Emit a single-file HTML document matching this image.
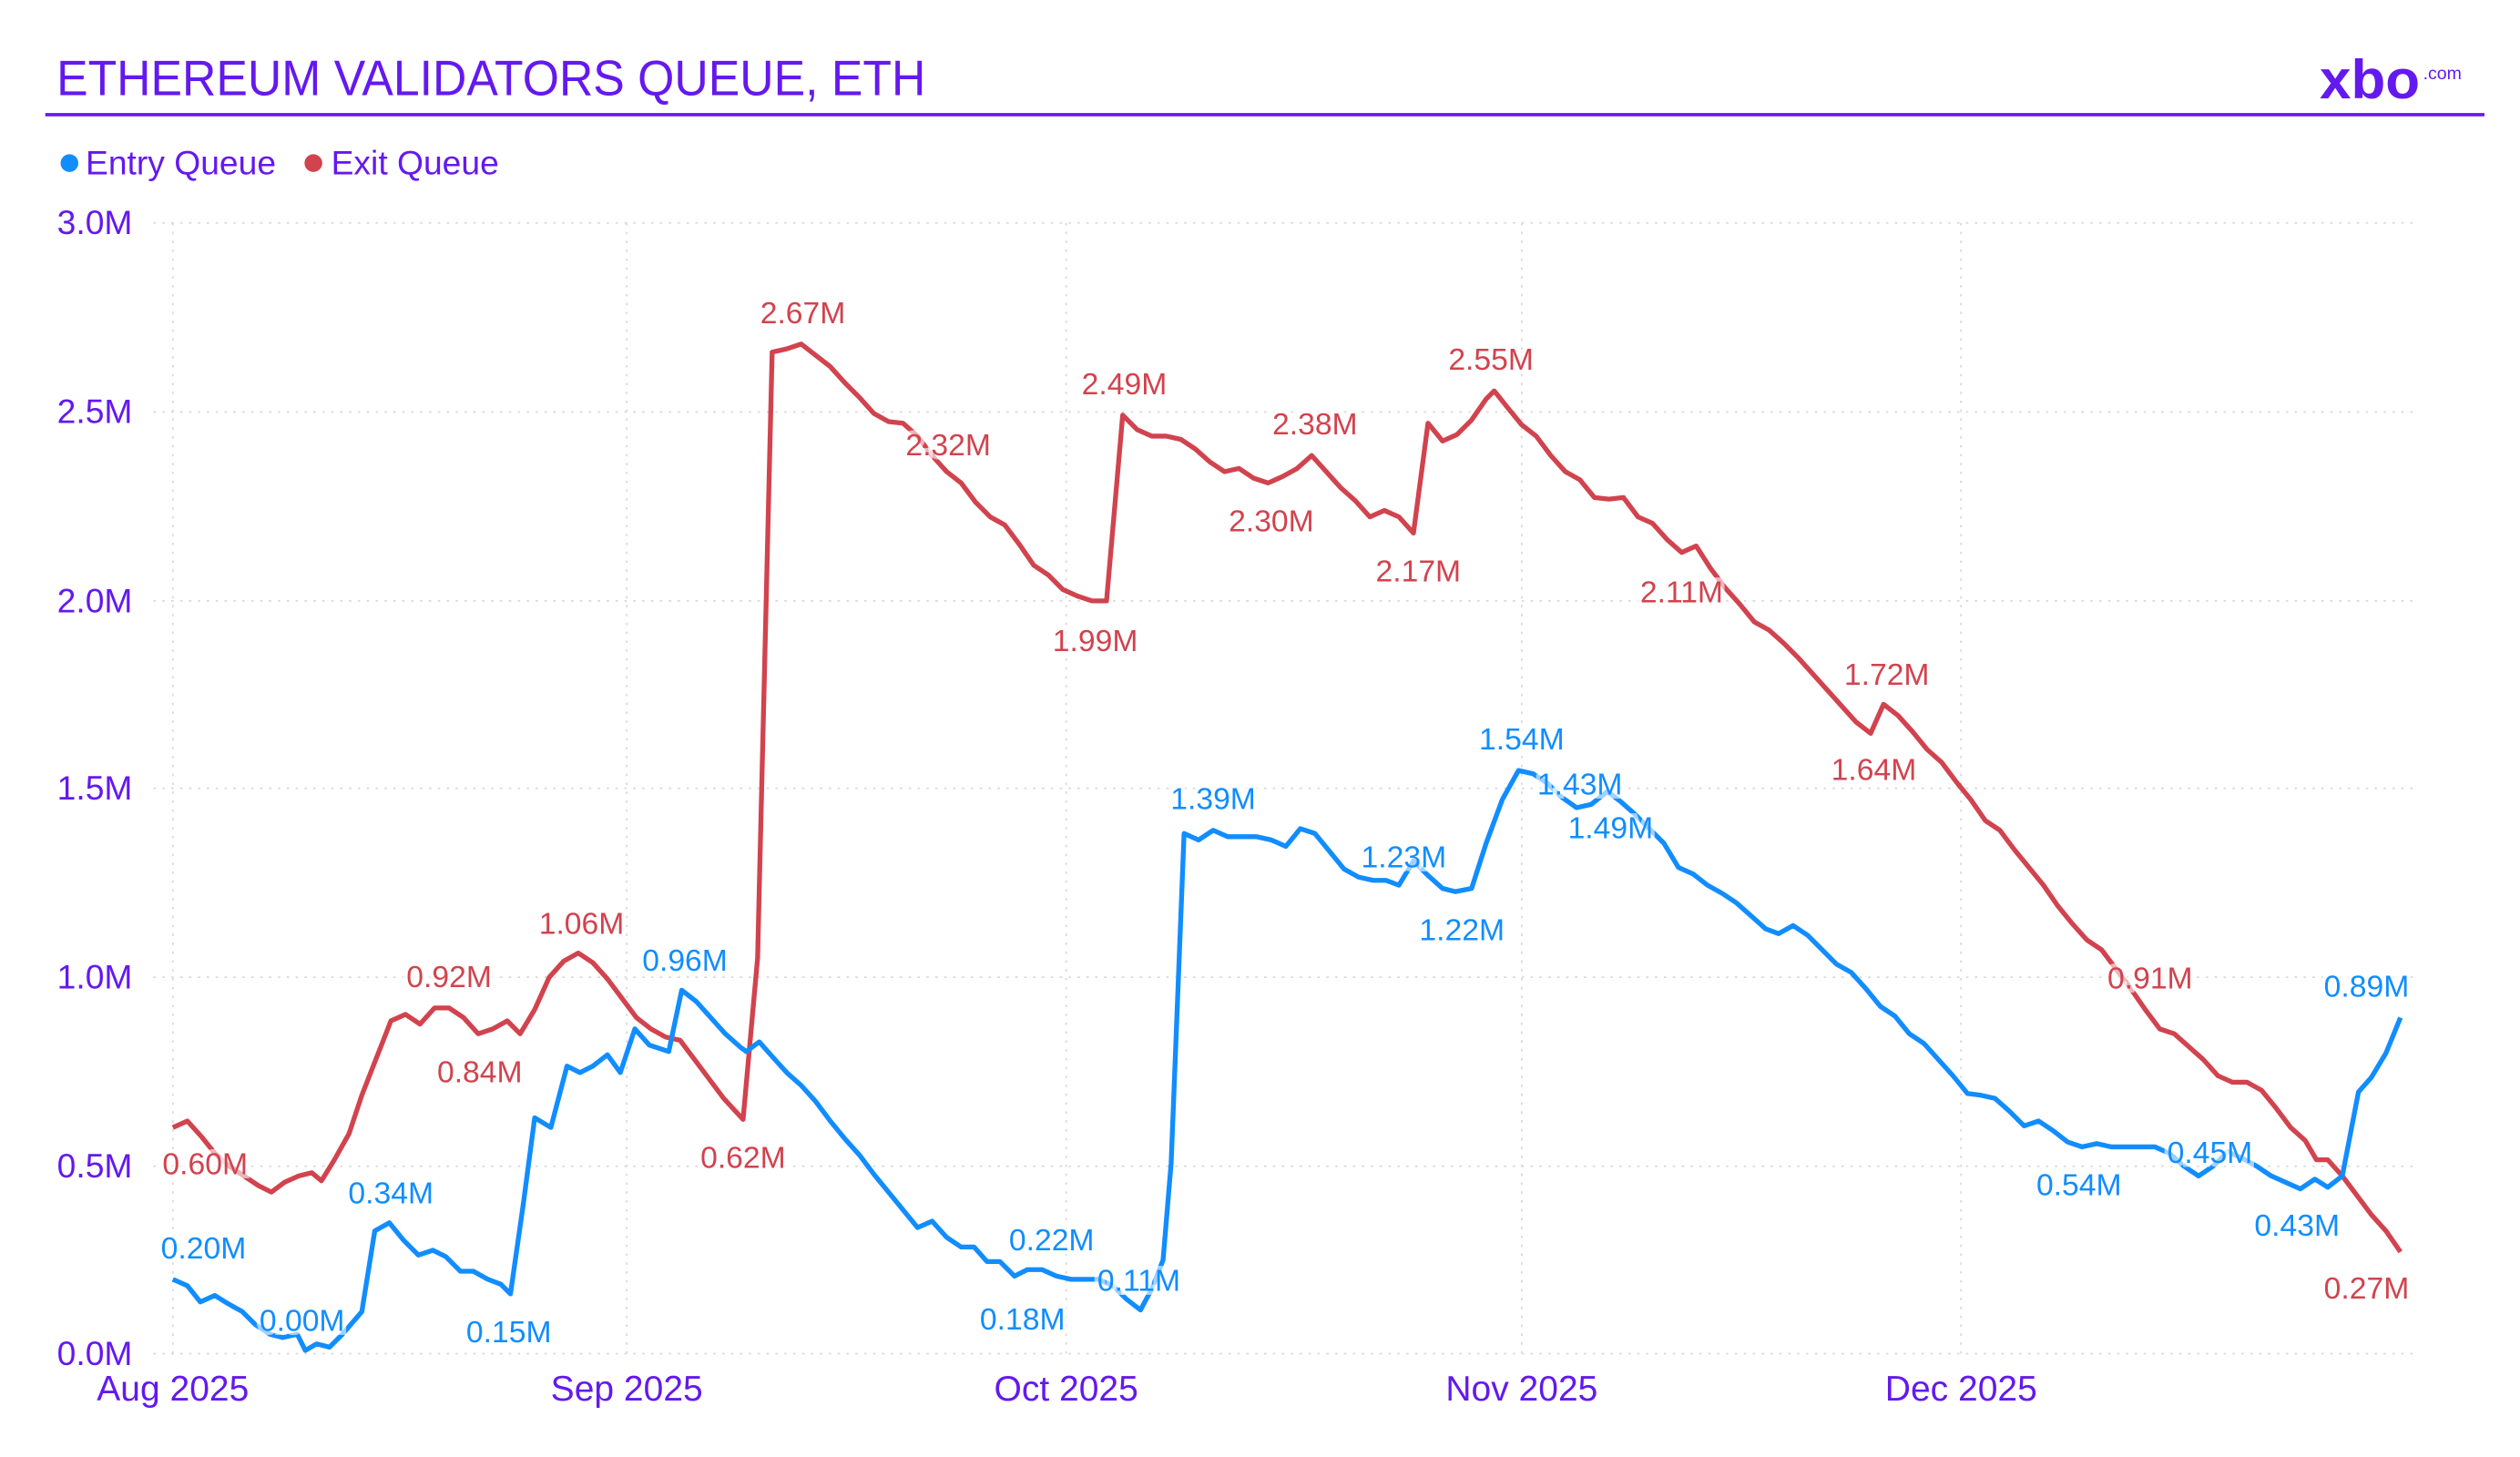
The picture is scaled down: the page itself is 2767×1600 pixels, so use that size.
<!DOCTYPE html>
<html><head><meta charset="utf-8"><style>
html,body{margin:0;padding:0;background:#fff;}
svg{display:block;}
text{font-family:"Liberation Sans Narrow","Liberation Sans",sans-serif;}
.ax{fill:#6419ee;font-size:21px;}
.lb{font-size:19px;paint-order:stroke;stroke:rgba(255,255,255,0.6);stroke-width:5px;text-anchor:middle;}
.b{fill:#118dff;} .r{fill:#d1434e;}
.g{stroke:#d9d9d9;stroke-width:1;stroke-dasharray:1.5 4;fill:none;}
</style></head><body>
<svg width="2767" height="1600" viewBox="0 0 1560 902" preserveAspectRatio="none" xmlns="http://www.w3.org/2000/svg">
<text x="35" y="59" style="font-size:31px;fill:#6419ee" textLength="538" lengthAdjust="spacingAndGlyphs">ETHEREUM VALIDATORS QUEUE, ETH</text>
<line x1="28" y1="71" x2="1538" y2="71" stroke="#6419ee" stroke-width="2"/>
<text x="1436" y="61" style="font-size:34px;font-weight:900;fill:#6419ee;font-family:'Liberation Sans',sans-serif" textLength="62" lengthAdjust="spacingAndGlyphs">xbo</text>
<text x="1500" y="49" style="font-size:11px;fill:#6419ee;font-family:'Liberation Sans',sans-serif">.com</text>
<circle cx="43" cy="101" r="5.5" fill="#118dff"/>
<text x="53" y="108" class="ax" style="font-size:21px">Entry Queue</text>
<circle cx="194" cy="101" r="5.5" fill="#d1434e"/>
<text x="205" y="108" class="ax" style="font-size:21px">Exit Queue</text>
<g class="g">
<line x1="95" y1="138" x2="1497" y2="138"/><line x1="95" y1="255" x2="1497" y2="255"/><line x1="95" y1="372" x2="1497" y2="372"/><line x1="95" y1="488" x2="1497" y2="488"/><line x1="95" y1="605" x2="1497" y2="605"/><line x1="95" y1="722" x2="1497" y2="722"/><line x1="95" y1="838" x2="1497" y2="838"/>
<line x1="107" y1="138" x2="107" y2="838"/><line x1="388" y1="138" x2="388" y2="838"/><line x1="660" y1="138" x2="660" y2="838"/><line x1="942" y1="138" x2="942" y2="838"/><line x1="1214" y1="138" x2="1214" y2="838"/>
</g>
<g class="ax" text-anchor="end">
<text x="82" y="145">3.0M</text><text x="82" y="262">2.5M</text><text x="82" y="379">2.0M</text><text x="82" y="495">1.5M</text><text x="82" y="612">1.0M</text><text x="82" y="729">0.5M</text><text x="82" y="845">0.0M</text>
</g>
<g class="ax" text-anchor="middle" style="font-size:22px">
<text x="107" y="867">Aug 2025</text><text x="388" y="867">Sep 2025</text><text x="660" y="867">Oct 2025</text><text x="942" y="867">Nov 2025</text><text x="1214" y="867">Dec 2025</text>
</g>
<polyline fill="none" stroke="#d1434e" stroke-width="3" stroke-linejoin="round" points="107,698 116,694 125,704 133,714 142,722 151,728 160,734 168,738 176,732 185,728 193,726 199,731 207,718 216,702 224,678 233,655 242,632 251,628 260,634 269,624 278,624 287,630 296,640 305,637 314,632 322,640 331,625 340,605 349,595 358,590 367,596 376,606 385,618 394,630 403,637 412,642 421,644 430,656 439,668 448,680 460,693 469,593 478,218 487,216 496,213 505,220 514,227 523,237 532,246 541,256 550,261 559,262 568,270 577,282 586,292 595,299 604,311 613,320 622,325 631,337 640,350 649,356 658,365 667,369 676,372 685,372 695,257 704,266 713,270 722,270 731,272 740,278 749,286 758,292 767,290 776,296 785,299 794,295 803,290 812,282 821,292 830,302 839,310 848,320 857,316 866,320 875,330 884,262 893,273 902,269 911,260 920,247 925,242 933,252 942,263 951,270 960,282 969,292 978,297 987,308 996,309 1005,308 1014,320 1023,324 1032,334 1041,342 1050,338 1059,352 1068,364 1077,374 1086,385 1095,390 1104,398 1113,407 1122,417 1131,427 1140,437 1149,447 1158,454 1166,436 1175,443 1184,453 1193,464 1202,472 1211,484 1220,495 1229,508 1238,514 1247,526 1256,537 1265,548 1274,561 1283,572 1292,582 1301,588 1310,600 1319,612 1328,625 1337,637 1346,640 1355,648 1364,656 1373,666 1382,670 1391,670 1400,675 1409,686 1418,698 1427,706 1434,718 1441,718 1450,728 1459,740 1468,752 1477,762 1486,775"/>
<polyline fill="none" stroke="#118dff" stroke-width="3" stroke-linejoin="round" points="107,792 116,796 124,806 133,802 141,807 150,812 158,820 167,826 175,828 184,826 189,836 196,832 204,834 212,826 224,812 232,762 241,757 250,768 259,777 268,774 276,778 285,787 293,787 302,792 310,795 316,801 324,745 331,692 341,698 351,660 359,664 367,660 376,653 384,664 393,637 402,647 414,651 422,613 431,620 440,630 449,640 458,648 462,651 470,645 478,654 487,664 496,672 505,682 514,694 523,705 532,715 541,727 550,738 559,749 568,760 577,756 586,766 595,772 603,772 611,781 619,781 628,790 636,786 645,786 654,790 663,792 672,792 680,792 689,796 697,804 706,811 713,798 720,780 725,720 733,516 742,520 751,514 760,518 769,518 778,518 787,520 796,524 805,513 814,516 823,527 832,538 841,543 850,545 858,545 866,548 875,533 884,542 893,550 901,552 911,550 920,522 930,495 940,477 949,479 958,485 966,493 976,500 985,498 995,490 1003,496 1012,504 1021,513 1030,522 1039,537 1048,541 1057,548 1066,553 1075,559 1084,567 1093,575 1101,578 1110,573 1119,579 1128,588 1137,597 1146,602 1155,612 1164,623 1173,629 1182,640 1191,646 1200,656 1209,666 1218,677 1226,678 1235,680 1244,688 1253,697 1262,694 1271,700 1280,707 1289,710 1298,708 1307,710 1316,710 1325,710 1334,710 1343,714 1352,722 1361,728 1370,722 1379,713 1388,717 1397,722 1406,728 1415,732 1424,736 1433,730 1441,735 1450,728 1460,676 1468,667 1477,652 1486,630"/>
<g class="lb r">
<text x="127" y="727">0.60M</text><text x="278" y="611">0.92M</text><text x="297" y="670">0.84M</text><text x="360" y="578">1.06M</text><text x="460" y="723">0.62M</text><text x="497" y="200">2.67M</text><text x="587" y="282">2.32M</text><text x="678" y="403">1.99M</text><text x="696" y="244">2.49M</text><text x="814" y="269">2.38M</text><text x="787" y="329">2.30M</text><text x="878" y="360">2.17M</text><text x="923" y="229">2.55M</text><text x="1041" y="373">2.11M</text><text x="1168" y="424">1.72M</text><text x="1160" y="483">1.64M</text><text x="1331" y="612">0.91M</text><text x="1465" y="804">0.27M</text>
</g>
<g class="lb b">
<text x="126" y="779">0.20M</text><text x="187" y="824">0.00M</text><text x="242" y="745">0.34M</text><text x="315" y="831">0.15M</text><text x="424" y="601">0.96M</text><text x="651" y="774">0.22M</text><text x="633" y="823">0.18M</text><text x="705" y="799">0.11M</text><text x="751" y="501">1.39M</text><text x="869" y="537">1.23M</text><text x="905" y="582">1.22M</text><text x="942" y="464">1.54M</text><text x="978" y="492">1.43M</text><text x="997" y="519">1.49M</text><text x="1287" y="740">0.54M</text><text x="1368" y="720">0.45M</text><text x="1422" y="765">0.43M</text><text x="1465" y="617">0.89M</text>
</g>
</svg>
</body></html>
